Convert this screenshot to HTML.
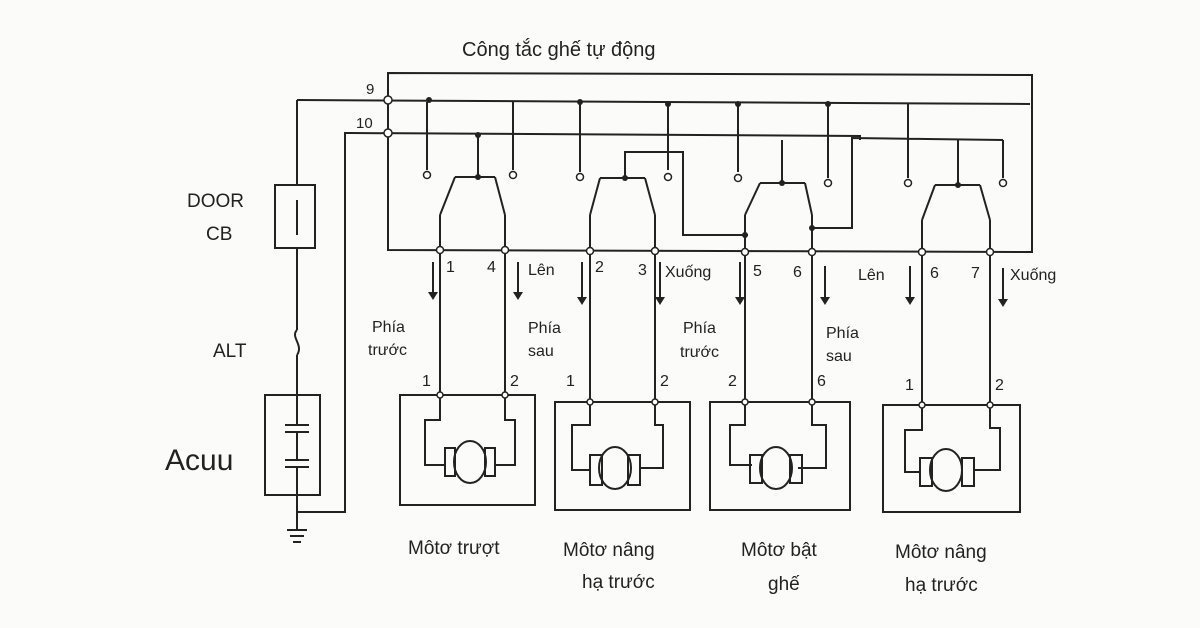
<!DOCTYPE html>
<html><head><meta charset="utf-8"><style>
html,body{margin:0;padding:0;background:#fbfbf9}
svg{display:block}
text{font-family:"Liberation Sans",sans-serif;fill:#222}
</style></head><body>
<svg width="1200" height="628" viewBox="0 0 1200 628" xmlns="http://www.w3.org/2000/svg">
<rect width="1200" height="628" fill="#fbfbf9"/>
<g stroke="#222" stroke-width="2" fill="none">
<!-- frame -->
<path d="M388 73 L1032 75 L1032 252 L388 250 Z"/>
<!-- row 9 -->
<path d="M297 100 L1030 104"/>
<path d="M297 100 L297 185"/>
<!-- row 10 -->
<path d="M350 133 L860 136 L860 140"/>
<path d="M350 133 L345 133 L345 512 L297 512"/>
<path d="M860 140 L860 140"/>
<!-- CB box -->
<rect x="275" y="185" width="40" height="63"/>
<path d="M297 200 L297 235"/>
<path d="M297 248 L297 330 M297 355 L297 395"/>
<path d="M297 330 C290 337 304 345 297 355"/>
<!-- battery -->
<rect x="265" y="395" width="55" height="100"/>
<path d="M297 395 L297 425 M285 425 L309 425 M285 432 L309 432 M297 432 L297 460 M285 460 L309 460 M285 467 L309 467 M297 467 L297 530 M287 530 L307 530 M290 536 L304 536 M293 542 L301 542"/>
<!-- group 1 -->
<path d="M427 102 L427 170 M478 135 L478 177 M455 177 L495 177 M440 215 L455 177 M495 177 L505 215 M440 215 L440 395 M505 215 L505 395 M513 102 L513 170"/>
<!-- group 2 -->
<path d="M580 102 L580 172 M600 178 L645 178 M590 215 L600 178 M645 178 L655 215 M590 215 L590 402 M655 215 L655 402 M625 178 L625 152 L683 152 L683 235 L748 235 M668 104 L668 170 M738 104 L738 172"/>
<!-- group 3 -->
<path d="M760 183 L805 183 M745 215 L760 183 M805 183 L812 215 M745 215 L745 402 M812 215 L812 402 M782 183 L782 140 M828 104 L828 178 M812 228 L852 228 L852 138 L1003 140 M908 104 L908 178 M1003 140 L1003 178"/>
<!-- group 4 -->
<path d="M935 185 L980 185 M922 220 L935 185 M980 185 L990 220 M922 220 L922 405 M990 220 L990 405 M958 140 L958 185"/>
<!-- motor boxes -->
<rect x="400" y="395" width="135" height="110"/>
<rect x="555" y="402" width="135" height="108"/>
<rect x="710" y="402" width="140" height="108"/>
<rect x="883" y="405" width="137" height="107"/>
<!-- motor internals -->
<path d="M440 395 L440 420 L425 420 L425 465 L445 465 M505 395 L505 420 L515 420 L515 465 L495 465"/>
<rect x="445" y="448" width="10" height="28"/><rect x="485" y="448" width="10" height="28"/><ellipse cx="470" cy="462" rx="16" ry="21"/>
<path d="M590 402 L590 425 L572 425 L572 470 L590 470 M655 402 L655 425 L663 425 L663 468 L640 468"/>
<rect x="590" y="455" width="12" height="30"/><rect x="628" y="455" width="12" height="30"/><ellipse cx="615" cy="468" rx="16" ry="21"/>
<path d="M745 402 L745 425 L730 425 L730 465 L752 465 M812 402 L812 425 L826 425 L826 468 L798 468"/>
<rect x="750" y="455" width="12" height="28"/><rect x="790" y="455" width="12" height="28"/><ellipse cx="776" cy="468" rx="16" ry="21"/>
<path d="M922 405 L922 430 L905 430 L905 472 L920 472 M990 405 L990 428 L1000 428 L1000 470 L975 470"/>
<rect x="920" y="458" width="12" height="28"/><rect x="962" y="458" width="12" height="28"/><ellipse cx="946" cy="470" rx="16" ry="21"/>
<!-- arrows -->
<path d="M433 262 L433 295 M518 262 L518 295 M582 262 L582 300 M660 262 L660 300 M740 262 L740 300 M825 266 L825 300 M910 266 L910 300 M1003 268 L1003 302"/>
</g>
<g fill="#222">
<path d="M428 292 L438 292 L433 300Z M513 292 L523 292 L518 300Z M577 297 L587 297 L582 305Z M655 297 L665 297 L660 305Z M735 297 L745 297 L740 305Z M820 297 L830 297 L825 305Z M905 297 L915 297 L910 305Z M998 299 L1008 299 L1003 307Z"/>
<circle cx="429" cy="100" r="3"/><circle cx="478" cy="135" r="3"/><circle cx="580" cy="102" r="3"/><circle cx="668" cy="104" r="3"/><circle cx="738" cy="104" r="3"/><circle cx="828" cy="104" r="3"/><circle cx="478" cy="177" r="3"/><circle cx="625" cy="178" r="3"/><circle cx="782" cy="183" r="3"/><circle cx="958" cy="185" r="3"/><circle cx="745" cy="235" r="3"/><circle cx="812" cy="228" r="3"/>
</g>
<g fill="#fff" stroke="#222" stroke-width="1.5">
<circle cx="388" cy="100" r="4"/><circle cx="388" cy="133" r="4"/>
<circle cx="427" cy="175" r="3.5"/><circle cx="513" cy="175" r="3.5"/><circle cx="580" cy="177" r="3.5"/><circle cx="668" cy="177" r="3.5"/><circle cx="738" cy="178" r="3.5"/><circle cx="828" cy="183" r="3.5"/><circle cx="908" cy="183" r="3.5"/><circle cx="1003" cy="183" r="3.5"/>
<circle cx="440" cy="250" r="3.5"/><circle cx="505" cy="250" r="3.5"/><circle cx="590" cy="251" r="3.5"/><circle cx="655" cy="251" r="3.5"/><circle cx="745" cy="252" r="3.5"/><circle cx="812" cy="252" r="3.5"/><circle cx="922" cy="252" r="3.5"/><circle cx="990" cy="252" r="3.5"/>
<circle cx="440" cy="395" r="3"/><circle cx="505" cy="395" r="3"/><circle cx="590" cy="402" r="3"/><circle cx="655" cy="402" r="3"/><circle cx="745" cy="402" r="3"/><circle cx="812" cy="402" r="3"/><circle cx="922" cy="405" r="3"/><circle cx="990" cy="405" r="3"/>
</g>
<text x="462" y="56" font-size="20">Công tắc ghế tự động</text>
<text x="366" y="94" font-size="15">9</text><text x="356" y="128" font-size="15">10</text>
<text x="187" y="207" font-size="19">DOOR</text><text x="206" y="240" font-size="19">CB</text>
<text x="213" y="357" font-size="19">ALT</text>
<text x="165" y="470" font-size="30">Acuu</text>
<g font-size="16">
<text x="446" y="272">1</text><text x="487" y="272">4</text><text x="528" y="275">Lên</text><text x="595" y="272">2</text><text x="638" y="275">3</text><text x="665" y="277">Xuống</text>
<text x="753" y="276">5</text><text x="793" y="277">6</text><text x="858" y="280">Lên</text><text x="930" y="278">6</text><text x="971" y="278">7</text><text x="1010" y="280">Xuống</text>
<text x="372" y="332">Phía</text><text x="368" y="355">trước</text>
<text x="528" y="333">Phía</text><text x="528" y="356">sau</text>
<text x="683" y="333">Phía</text><text x="680" y="357">trước</text>
<text x="826" y="338">Phía</text><text x="826" y="361">sau</text>
<text x="422" y="386">1</text><text x="510" y="386">2</text><text x="566" y="386">1</text><text x="660" y="386">2</text><text x="728" y="386">2</text><text x="817" y="386">6</text><text x="905" y="390">1</text><text x="995" y="390">2</text>
</g>
<g font-size="19">
<text x="408" y="554">Môtơ trượt</text>
<text x="563" y="556">Môtơ nâng</text><text x="582" y="588">hạ trước</text>
<text x="741" y="556">Môtơ bật</text><text x="768" y="590">ghế</text>
<text x="895" y="558">Môtơ nâng</text><text x="905" y="591">hạ trước</text>
</g>
</svg>
</body></html>
